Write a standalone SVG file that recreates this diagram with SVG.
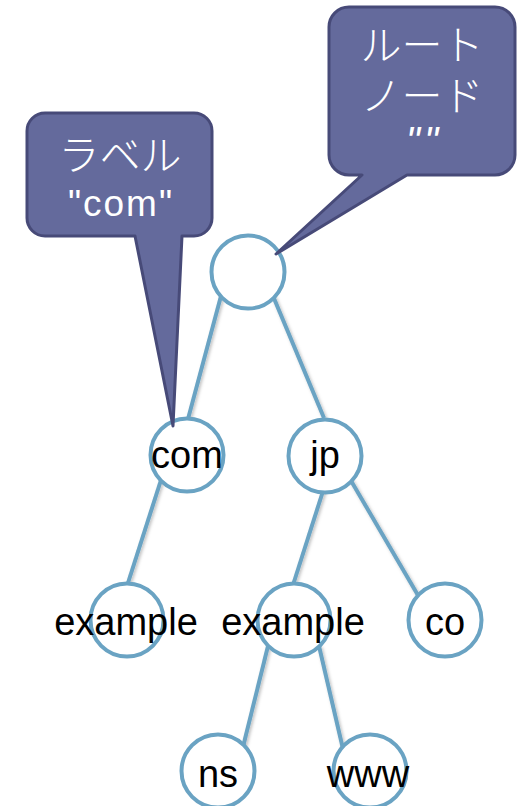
<svg xmlns="http://www.w3.org/2000/svg" width="517" height="806" viewBox="0 0 517 806">
<defs>
<filter id="sh" x="-20%" y="-20%" width="140%" height="140%">
<feDropShadow dx="1.5" dy="1.5" stdDeviation="1.5" flood-color="#000" flood-opacity="0.25"/>
</filter>
</defs>
<style>
.edge{stroke:#6aa3c3;stroke-width:4;fill:none;stroke-linecap:butt}
.node circle{fill:#fff;stroke:#6aa3c3;stroke-width:4}
.lbl{font-family:"Liberation Sans",Arial,sans-serif;font-size:38px;fill:#000;text-anchor:middle}
.callout path{fill:#646a9c;stroke:#474a78;stroke-width:3;stroke-linejoin:round}
.jp{font-family:"Noto Sans CJK JP","Noto Sans",sans-serif;font-size:41px;fill:#fff;text-anchor:middle;font-weight:300}
.lat{font-family:"Liberation Sans",Arial,sans-serif;fill:#fff;text-anchor:middle}
</style>
<rect width="517" height="806" fill="#fff"/>
<g id="connectors" filter="url(#sh)">
<line class="edge" x1="221" y1="296" x2="188" y2="419"/>
<line class="edge" x1="273" y1="296" x2="324" y2="418"/>
<line class="edge" x1="161" y1="480" x2="127" y2="586"/>
<line class="edge" x1="324" y1="488" x2="293" y2="585"/>
<line class="edge" x1="350" y1="479" x2="419" y2="597"/>
<line class="edge" x1="268" y1="646" x2="243" y2="747"/>
<line class="edge" x1="319" y1="646" x2="343" y2="749"/>
</g>
<g id="n-root" class="node"><circle cx="248" cy="272" r="36.5"/></g>
<g id="n-com" class="node"><circle cx="187" cy="455" r="36.5"/><text class="lbl" x="187" y="468">com</text></g>
<g id="n-jp" class="node"><circle cx="325" cy="456" r="36.5"/><text class="lbl" x="325" y="468">jp</text></g>
<g id="n-example1" class="node"><circle cx="127" cy="620" r="36.5"/><text class="lbl" x="126" y="635">example</text></g>
<g id="n-example2" class="node"><circle cx="294" cy="620" r="36.5"/><text class="lbl" x="293" y="635">example</text></g>
<g id="n-co" class="node"><circle cx="445" cy="620" r="36.5"/><text class="lbl" x="445" y="635">co</text></g>
<g id="n-ns" class="node"><circle cx="218" cy="771" r="36.5"/><text class="lbl" x="218" y="787">ns</text></g>
<g id="n-www" class="node"><circle cx="370" cy="771" r="36.5"/><text class="lbl" x="368" y="787">www</text></g>
<g id="callout-root" class="callout">
<path d="M349,7 H495 A20 20 0 0 1 515,27 V155 A20 20 0 0 1 495,175 H407 L276,254 L362,175 H349 A20 20 0 0 1 329,155 V27 A20 20 0 0 1 349,7 Z"/>
<text class="jp" x="422" y="60">ルート</text>
<text class="jp" x="422" y="111">ノード</text>
<text class="lat" x="424" y="155" font-size="40" font-style="italic" letter-spacing="4">""</text>
</g>
<g id="callout-label" class="callout">
<path d="M45,113 H194 A18 18 0 0 1 212,131 V218 A18 18 0 0 1 194,236 H182 L173,426 L135,236 H45 A18 18 0 0 1 27,218 V131 A18 18 0 0 1 45,113 Z"/>
<text class="jp" x="120" y="170">ラベル</text>
<text class="lat" x="121" y="216" font-size="37" letter-spacing="2">"com"</text>
</g>
</svg>
